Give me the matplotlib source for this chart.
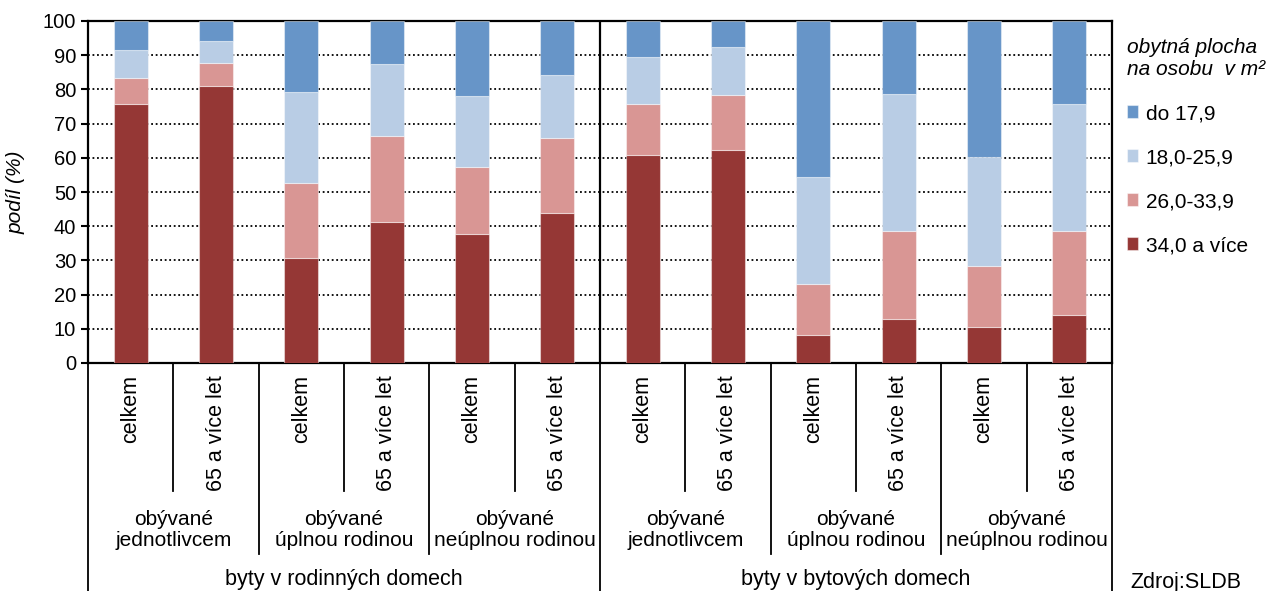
import matplotlib
matplotlib.use("Agg")
import matplotlib.pyplot as plt
import numpy as np

plt.rcParams['font.family'] = ['Liberation Sans', 'DejaVu Sans']

# podily (%) po sloupcich, zleva doprava
kategorie = ["celkem", "65 a více let"] * 6
skupiny = ["obývané\njednotlivcem", "obývané\núplnou rodinou", "obývané\nneúplnou rodinou"] * 2
sekce = ["byty v rodinných domech", "byty v bytových domech"]

nad34 = [75.6, 80.9, 30.6, 41.1, 37.6, 44.0, 60.7, 62.4, 8.2, 12.8, 10.5, 14.0]
od26 = [7.6, 6.9, 21.9, 25.4, 19.6, 21.9, 14.9, 16.1, 15.0, 25.9, 17.9, 24.7]
od18 = [8.2, 6.4, 26.7, 20.8, 20.8, 18.4, 13.9, 13.9, 31.2, 39.9, 31.7, 37.1]
do179 = [8.6, 5.8, 20.8, 12.7, 22.0, 15.7, 10.5, 7.6, 45.6, 21.4, 39.9, 24.2]

serie = [nad34, od26, od18, do179]
popisky = ["34,0 a více", "26,0-33,9", "18,0-25,9", "do 17,9"]
barvy = ["#953735", "#D99694", "#B9CDE5", "#6795C8"]

fig = plt.figure(figsize=(12.68, 5.91), dpi=100)
ax = fig.add_axes([88/1268, 1-363/591, 1024/1268, 342/591])

x = np.arange(len(kategorie))
spodek = np.zeros(len(kategorie))
bary = []
for hodnoty, barva, popis in zip(serie, barvy, popisky):
    b = ax.bar(x, hodnoty, 0.4, bottom=spodek, color=barva, label=popis,
               edgecolor=(1, 1, 1, 0.45), linewidth=0.8, zorder=3)
    bary.append(b)
    spodek += np.array(hodnoty)

ax.set_xlim(-0.5, len(kategorie) - 0.5)
ax.set_ylim(0, 100)
ax.set_yticks(range(0, 101, 10))
ax.tick_params(axis='y', labelsize=14.5, length=5, width=1.5, direction='out')
ax.set_xticks([])
ax.yaxis.grid(True, color='black', linestyle=(0, (1, 1.5)), linewidth=1.3, zorder=0)
ax.set_axisbelow(True)
for s in ax.spines.values():
    s.set_linewidth(1.6)
ax.set_ylabel("podíl (%)", fontsize=15, style='italic')
ax.yaxis.set_label_coords(-0.061, 0.5)

# delici cara mezi sekcemi
ax.axvline(5.5, color='black', linewidth=1.6, zorder=4)

# viceurovnova osa x
tr = ax.get_xaxis_transform()
for i in range(len(kategorie)):
    hrana = i + 0.5
    if i % 2 == 0:
        hloubka = -0.374
    elif hrana == 5.5 or hrana == 11.5:
        hloubka = -0.75
    else:
        hloubka = -0.558
    ax.plot([hrana, hrana], [0, hloubka], transform=tr, color='black',
            linewidth=1.3, clip_on=False)
ax.plot([-0.5, -0.5], [0, -0.75], transform=tr, color='black', linewidth=1.3, clip_on=False)

for i, k in enumerate(kategorie):
    ax.text(i, -0.035, k, transform=tr, rotation=90, ha='center', va='top', fontsize=15.5)
for j, g in enumerate(skupiny):
    ax.text(2 * j + 0.5, -0.488, g, transform=tr, ha='center', va='center',
            fontsize=15, linespacing=1.1)
for j, s in enumerate(sekce):
    ax.text(6 * j + 2.5, -0.649, s, transform=tr, ha='center', va='baseline', fontsize=15.5)

fig.text(1130/1268, 3/591, "Zdroj:SLDB", fontsize=15.5, ha='left', va='baseline')

# legenda
leg = ax.legend(bary[::-1], popisky[::-1], loc='upper left',
                bbox_to_anchor=(1127/1268, 1-38/591), bbox_transform=fig.transFigure,
                frameon=False, fontsize=15, title="obytná plocha\nna osobu  v m²",
                title_fontproperties={'size': 15, 'style': 'italic'},
                alignment='left', handlelength=0.55, handleheight=0.55,
                handletextpad=0.35, labelspacing=1.2, borderpad=0, borderaxespad=0)

fig.savefig("out.png", dpi=100)
